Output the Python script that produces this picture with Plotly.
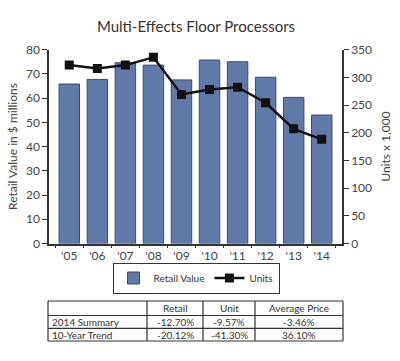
import plotly.graph_objects as go

years = ["'05", "'06", "'07", "'08", "'09", "'10", "'11", "'12", "'13", "'14"]
retail_value = [65.8, 67.7, 74.6, 73.6, 67.5, 75.7, 75.0, 68.6, 60.3, 53.0]
units = [322, 316, 322, 336, 269, 278, 282, 254, 207, 188]

table_header = ["", "Retail", "Unit", "Average Price"]
table_rows = ["2014 Summary", "10-Year Trend"]
table_retail = ["-12.70%", "-20.12%"]
table_unit = ["-9.57%", "-41.30%"]
table_price = ["-3.46%", "36.10%"]

W, H = 400, 361
FONT = "Lato, Open Sans, sans-serif"
AX = "#333333"

fig = go.Figure()
fig.add_trace(go.Bar(
    x=years, y=retail_value, name="Retail Value",
    marker=dict(color="#6179a9", line=dict(color="#3b4b70", width=1)),
    yaxis="y",
))
fig.add_trace(go.Scatter(
    x=years, y=units, name="Units", mode="lines+markers",
    line=dict(color="#111111", width=2.5),
    marker=dict(symbol="square", size=9, color="#111111"),
    yaxis="y2",
))

# summary table built from the table lists
col_edges = [48, 147, 203, 255, 343]
row_edges = [301, 315.5, 328.3, 341]
px = lambda v: v / W
py = lambda v: 1 - v / H
shapes = []
for xe in col_edges:
    shapes.append(dict(type="line", xref="paper", yref="paper", x0=px(xe), x1=px(xe),
                       y0=py(row_edges[0]), y1=py(row_edges[-1]), line=dict(color=AX, width=1.2)))
for ye in row_edges:
    shapes.append(dict(type="line", xref="paper", yref="paper", x0=px(col_edges[0]), x1=px(col_edges[-1]),
                       y0=py(ye), y1=py(ye), line=dict(color=AX, width=1.2)))
columns = [table_header]
body = [table_rows, table_retail, table_unit, table_price]
annotations = []
grid = [table_header] + [[body[c][r] for c in range(4)] for r in range(len(table_rows))]
for r, row in enumerate(grid):
    yc = (row_edges[r] + row_edges[r + 1]) / 2
    for c, txt in enumerate(row):
        if not txt:
            continue
        if c == 0:
            xa, anchor = px(col_edges[0] + 2), "left"
        else:
            xa, anchor = px((col_edges[c] + col_edges[c + 1]) / 2), "center"
        annotations.append(dict(text=txt, xref="paper", yref="paper", x=xa, y=py(yc),
                                xanchor=anchor, yanchor="middle", showarrow=False,
                                font=dict(family=FONT, size=10, color="#333")))

y_top = 1 - 49.6 / H
y_bot = 1 - 243.5 / H
fig.update_layout(
    width=W, height=H,
    margin=dict(l=0, r=0, t=0, b=0, autoexpand=False),
    paper_bgcolor="white", plot_bgcolor="white",
    font=dict(family=FONT, color="#333"),
    title=dict(text="Multi-Effects Floor Processors", x=0.49, xanchor="center",
               y=1 - 27 / H, yanchor="middle", font=dict(size=15, color="#333"),
               automargin=False),
    bargap=0.27,
    showlegend=True,
    legend=dict(orientation="h", x=0.49, xanchor="center", y=1 - 278 / H, yanchor="middle",
                bordercolor=AX, borderwidth=1, font=dict(size=10, color="#333"),
                itemwidth=30, tracegroupgap=0),
    xaxis=dict(domain=[49 / W, 342 / W], anchor="y", showline=True, linecolor=AX, linewidth=1.5,
               ticks="outside", ticklen=3, tickson="boundaries", tickcolor=AX, automargin=False,
               tickfont=dict(size=12, color="#444"), showgrid=False),
    yaxis=dict(domain=[y_bot, y_top], range=[0, 80], dtick=10, showline=True, linecolor=AX,
               linewidth=1.5, ticks="outside", ticklen=5, tickcolor=AX, showgrid=False,
               zeroline=False, tickfont=dict(size=12, color="#444"), automargin=False,
               title=dict(text="Retail Value in $ millions", font=dict(size=12, color="#444"), standoff=6)),
    yaxis2=dict(overlaying="y", side="right", range=[0, 350], dtick=50, showline=True,
                linecolor=AX, linewidth=1.5, ticks="outside", ticklen=5, tickcolor=AX,
                showgrid=False, zeroline=False, tickfont=dict(size=12, color="#444"), automargin=False,
                title=dict(text="Units x 1,000", font=dict(size=12, color="#444"), standoff=11)),
    shapes=shapes,
    annotations=annotations,
)

fig.write_html("out.html", config={"displayModeBar": False},
               post_script="document.body.style.margin='0px';")
